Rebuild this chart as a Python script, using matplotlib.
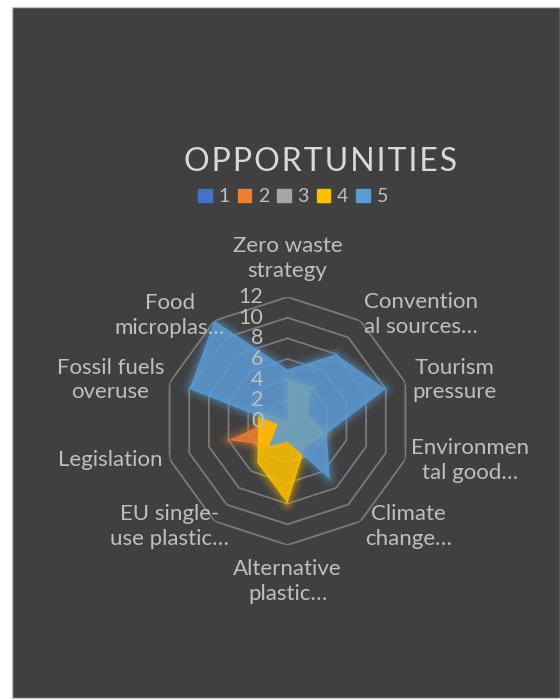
import numpy as np
import matplotlib
matplotlib.use("Agg")
import matplotlib.pyplot as plt
from matplotlib.patches import Rectangle, Patch
from matplotlib.transforms import offset_copy

plt.rcParams["font.family"] = ["Lato", "DejaVu Sans"]

# Data
categories = [
    "Zero waste\nstrategy", "Convention\nal sources…", "Tourism\npressure",
    "Environmen\ntal good…", "Climate\nchange…", "Alternative\nplastic…",
    "EU single-\nuse plastic…", "Legislation", "Fossil fuels\noveruse",
    "Food\nmicroplas…",
]
series_names = ["1", "2", "3", "4", "5"]
s1 = [0, 0, 0, 0, 0, 0, 0, 0, 0, 0]
s2 = [0, 0, 0, 0, 0, 0, 3, 6, 1, 0]
s3 = [0, 0, 0, 0, 0, 0, 0, 0, 0, 0]
s4 = [4, 4, 2, 4, 3, 8, 5, 3, 3, 0]
s5 = [5, 8, 10, 4, 7, 2, 3, 1, 10, 12]
r_ticks = [0, 2, 4, 6, 8, 10, 12]

# Style
BG = "#404040"
TXT = "#BFBFBF"
RING = "#7a7a7a"
colors = ["#4472C4", "#ED7D31", "#A5A5A5", "#FFC000", "#5B9BD5"]

# label placement (theta deg clockwise from north, radius in data units)
label_pos = [(0, 15.7), (51.5, 16.5), (76.2, 16.6), (102.1, 18.1), (131.1, 15.5),
             (180, 15.5), (228.2, 15.3), (257.6, 17.6), (283, 17.6), (312, 15.3)]

fig = plt.figure(figsize=(5.6, 7.0), dpi=100)
fig.patch.set_facecolor("#ffffff")
fig.patches.append(Rectangle((12 / 560, 2 / 700), 548 / 560, 691 / 700,
                             transform=fig.transFigure, facecolor=BG,
                             edgecolor="#c8c8c8", linewidth=1.0, zorder=0))

ax = fig.add_axes([163.5 / 560, 155 / 700, 248 / 560, 248 / 700], projection="polar")
ax.set_zorder(2)
ax.set_facecolor("none")
ax.set_theta_zero_location("N")
ax.set_theta_direction(-1)
ax.set_ylim(0, 12)
ax.grid(False)
ax.set_xticks([])
ax.set_yticks([])
ax.spines["polar"].set_visible(False)

n = len(categories)
angles = np.arange(n) * 2 * np.pi / n
closed = np.append(angles, angles[0])

# polygon rings
for r in r_ticks[1:]:
    ax.plot(closed, [r] * (n + 1), color=RING, linewidth=1.3, zorder=1)

# series
for vals, col in zip([s1, s2, s3, s4, s5], colors):
    v = np.append(vals, vals[0])
    for lw, a in [(12, 0.07), (8, 0.12), (4, 0.2)]:
        ax.plot(closed, v, color=col, linewidth=lw, alpha=a, solid_joinstyle="round", zorder=2)
    ax.fill(closed, v, color=col, alpha=0.86, linewidth=0, zorder=3)

# radial tick labels
tr = offset_copy(ax.transData, fig=fig, x=-24, y=0, units="dots")
for r in r_ticks:
    ax.text(0, r, str(r), transform=tr, ha="right", va="center",
            color=TXT, fontsize=15.5, zorder=5)

# category labels
for lab, (th, rr) in zip(categories, label_pos):
    ax.text(np.deg2rad(th), rr, lab, ha="center", va="center", color=TXT,
            fontsize=16, linespacing=1.3, clip_on=False)

fig.text(321 / 560, 1 - 162 / 700, "O P P O R T U N I T I E S".replace(" ", "\u200a"),
         ha="center", va="center", color="#D9D9D9", fontsize=23)

handles = [Patch(facecolor=c, edgecolor=c, label=s) for c, s in zip(colors, series_names)]
leg = fig.legend(handles=handles, loc="center", bbox_to_anchor=(293 / 560, 1 - 197 / 700),
                 ncol=5, frameon=False, fontsize=14, handlelength=0.7, handleheight=0.7,
                 handletextpad=0.35, columnspacing=0.4, labelcolor=TXT)

fig.savefig("out.png", dpi=100, facecolor=fig.get_facecolor())
